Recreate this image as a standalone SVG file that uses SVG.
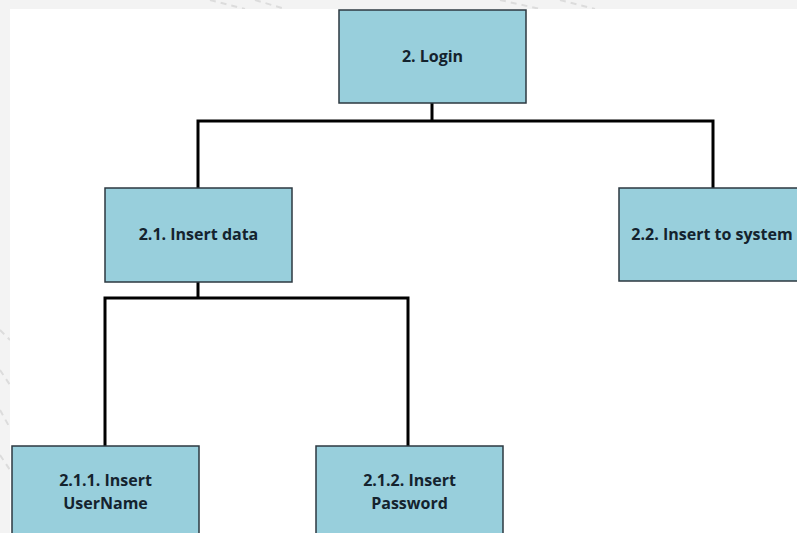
<svg xmlns="http://www.w3.org/2000/svg" width="797" height="533" viewBox="0 0 797 533">
  <style>
    .box { fill: #98cfdc; stroke: #2c3940; stroke-width: 1.5; }
    .lbl { font-family: "Open Sans", "Liberation Sans", sans-serif; font-weight: 700; font-size: 16px; fill: #14232e; text-anchor: middle; }
    .wire { fill: none; stroke: #000; stroke-width: 3; stroke-linejoin: miter; }
    .bgmark { fill: none; stroke: #dcdcdc; stroke-width: 2; stroke-dasharray: 6 5; }
  </style>

  <!-- page backdrop and drawing sheet -->
  <rect x="0" y="0" width="797" height="533" fill="#f3f3f3"/>
  <g>
    <path class="bgmark" d="M210 0 L245 9 M255 0 L285 9 M500 0 L540 9 M560 0 L595 9"/>
    <path class="bgmark" d="M0 330 L10 340 M0 370 L10 385 M0 410 L10 428 M0 455 L10 470"/>
  </g>
  <rect x="10" y="9" width="787" height="524" fill="#ffffff"/>

  <!-- connectors -->
  <g id="connectors">
    <path class="wire" d="M432 103 V121 M198 188 V121 H713 V188"/>
    <path class="wire" d="M198 282 V298 M105 446 V298 H408 V446"/>
  </g>

  <g id="login">
    <rect class="box" x="339" y="10" width="187" height="93"/>
    <text class="lbl" x="432.5" y="62">2. Login</text>
  </g>

  <g id="insert-data">
    <rect class="box" x="105" y="188" width="187" height="94"/>
    <text class="lbl" x="198.5" y="240">2.1. Insert data</text>
  </g>

  <g id="insert-to-system">
    <rect class="box" x="619" y="188" width="187" height="93"/>
    <text class="lbl" x="712" y="240">2.2. Insert to system</text>
  </g>

  <g id="insert-username">
    <rect class="box" x="12" y="446" width="187" height="95"/>
    <text class="lbl" x="105.5" y="486">2.1.1. Insert</text>
    <text class="lbl" x="105.5" y="509">UserName</text>
  </g>

  <g id="insert-password">
    <rect class="box" x="316" y="446" width="187" height="95"/>
    <text class="lbl" x="409.5" y="486">2.1.2. Insert</text>
    <text class="lbl" x="409.5" y="509">Password</text>
  </g>
</svg>
